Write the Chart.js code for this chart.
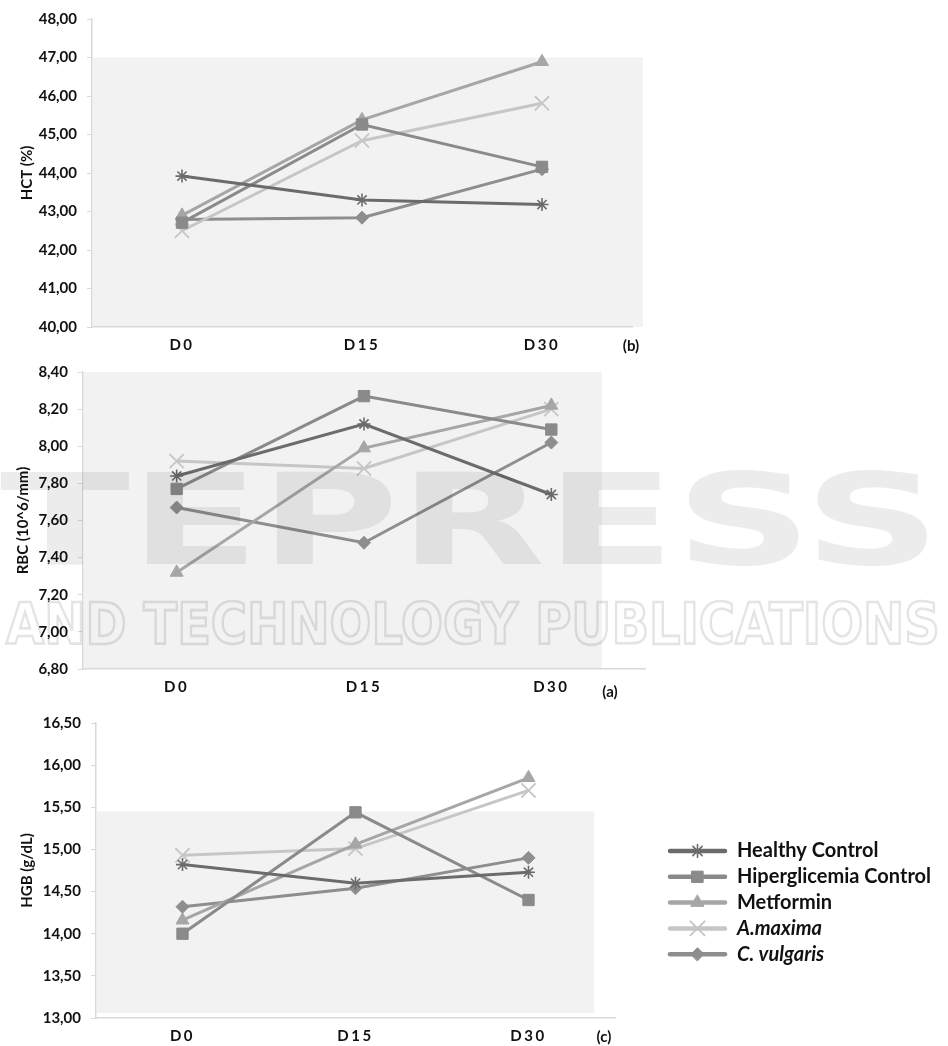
<!DOCTYPE html>
<html><head><meta charset="utf-8">
<script src="https://cdn.jsdelivr.net/npm/chart.js@4.4.1/dist/chart.umd.min.js"></script>
<style>
html,body{margin:0;padding:0;background:#fff;}
body{width:948px;height:1046px;position:relative;overflow:hidden;font-family:Lato,sans-serif;}
canvas{position:absolute;left:0;}
.tag{position:absolute;font:bold 15px Lato,sans-serif;color:#111;transform:translate(-50%,-50%);}
.wm{position:absolute;left:0;top:0;white-space:nowrap;font-family:"DejaVu Sans",sans-serif;font-weight:bold;line-height:1;transform-origin:0 0;mix-blend-mode:multiply;pointer-events:none;}
#wm1{color:#ececec;font-size:123px;}
#wm2{color:transparent;-webkit-text-stroke:2.5px #e4e4e4;font-size:55px;}
</style></head><body>
<canvas id="c1" style="top:0px" width="948" height="360"></canvas>
<canvas id="c2" style="top:350px" width="948" height="350"></canvas>
<canvas id="c3" style="top:700px" width="948" height="346"></canvas>
<div class="tag" style="left:631px;top:345px">(b)</div>
<div class="tag" style="left:610px;top:691px">(a)</div>
<div class="tag" style="left:604px;top:1036px">(c)</div>
<div class="wm" id="wm1">TEPRESS</div>
<div class="wm" id="wm2">AND TECHNOLOGY PUBLICATIONS</div>
<script>
// ---- data ----
const days = ['D0', 'D15', 'D30'];
const seriesNames = ['Healthy Control', 'Hiperglicemia Control', 'Metformin', 'A.maxima', 'C. vulgaris'];

const hctHealthy = [43.92, 43.30, 43.18];
const hctHiper   = [42.71, 45.26, 44.16];
const hctMetf    = [42.90, 45.38, 46.89];
const hctAmax    = [42.50, 44.84, 45.81];
const hctCvul    = [42.79, 42.84, 44.10];

const rbcHealthy = [7.84, 8.12, 7.74];
const rbcHiper   = [7.77, 8.27, 8.09];
const rbcMetf    = [7.32, 7.99, 8.22];
const rbcAmax    = [7.92, 7.88, 8.20];
const rbcCvul    = [7.67, 7.48, 8.02];

const hgbHealthy = [14.82, 14.60, 14.73];
const hgbHiper   = [14.00, 15.44, 14.40];
const hgbMetf    = [14.16, 15.06, 15.85];
const hgbAmax    = [14.93, 15.01, 15.70];
const hgbCvul    = [14.32, 14.54, 14.90];

const hctTicks = ['40,00','41,00','42,00','43,00','44,00','45,00','46,00','47,00','48,00'];
const rbcTicks = ['6,80','7,00','7,20','7,40','7,60','7,80','8,00','8,20','8,40'];
const hgbTicks = ['13,00','13,50','14,00','14,50','15,00','15,50','16,00','16,50'];

// ---- styles ----
const styles = [
  {color:'#6b6b6b', point:'star',    r:6.5, bw:1.6, italic:false},
  {color:'#8a8a8a', point:'rect',    r:8,   bw:1,   italic:false},
  {color:'#a6a6a6', point:'triangle',r:7.5, bw:1,   italic:false},
  {color:'#c6c6c6', point:'crossRot',r:10,  bw:1.8, italic:true},
  {color:'#8e8e8e', point:'rectRot', r:6.5, bw:1,   italic:true}
];

const FONT = 'Lato, "Open Sans", sans-serif';

const bgPlugin = {
  id: 'plotBg',
  beforeDraw(chart, args, opts) {
    const {ctx, scales:{x, y}, chartArea} = chart;
    const l = chartArea.left + 1;
    const r = x.getPixelForValue(opts.xMax);
    const t = y.getPixelForValue(opts.yMax);
    const b = y.getPixelForValue(opts.yMin);
    ctx.save();
    ctx.fillStyle = '#f2f2f2';
    ctx.fillRect(l, t, r - l, b - t);
    ctx.restore();
  }
};

const spacingPlugin = {
  id: 'xSpacing',
  afterLayout(chart) {
    const sc = chart.scales.x;
    if (sc._patched) return;
    const orig = sc.drawLabels.bind(sc);
    sc.drawLabels = function(area) {
      const ctx = this.ctx;
      ctx.save();
      try { ctx.letterSpacing = '2.5px'; } catch(e) {}
      orig(area);
      ctx.restore();
    };
    sc._patched = true;
  }
};

const legendPlugin = {
  id: 'sideLegend',
  afterDraw(chart, args, opts) {
    if (!opts.show) return;
    const ctx = chart.ctx;
    ctx.save();
    chart.data.datasets.forEach((ds, i) => {
      const st = styles[i];
      const y = opts.top + i * opts.gap;
      ctx.strokeStyle = st.color;
      ctx.lineWidth = 4.5;
      ctx.lineCap = 'round';
      ctx.beginPath();
      ctx.moveTo(opts.x0, y);
      ctx.lineTo(opts.x1, y);
      ctx.stroke();
      ctx.fillStyle = st.color;
      ctx.strokeStyle = st.color;
      ctx.lineWidth = st.bw;
      Chart.helpers.drawPoint(ctx, {pointStyle: st.point, radius: st.r, rotation: 0, borderWidth: st.bw}, (opts.x0 + opts.x1) / 2, y);
      ctx.fillStyle = '#111';
      ctx.textBaseline = 'middle';
      ctx.textAlign = 'left';
      ctx.font = (st.italic ? 'italic ' : '') + 'bold 20px ' + FONT;
      ctx.fillText(ds.label, opts.tx, y);
    });
    ctx.restore();
  }
};

function makeDatasets(arrs) {
  return arrs.map((vals, i) => ({
    label: seriesNames[i],
    data: vals,
    borderColor: styles[i].color,
    backgroundColor: styles[i].color,
    borderWidth: 3,
    pointStyle: styles[i].point,
    pointRadius: styles[i].r,
    pointBorderWidth: styles[i].bw,
    pointBorderColor: styles[i].color,
    pointBackgroundColor: styles[i].color,
    tension: 0
  }));
}

function makeChart(id, arrs, cfg) {
  return new Chart(document.getElementById(id), {
    type: 'line',
    data: { labels: days, datasets: makeDatasets(arrs) },
    plugins: [bgPlugin, spacingPlugin, legendPlugin],
    options: {
      responsive: false,
      animation: false,
      layout: { padding: { left: 0, top: cfg.padTop, right: cfg.padRight, bottom: 0 } },
      plugins: {
        legend: { display: false },
        tooltip: { enabled: false },
        plotBg: cfg.bg,
        sideLegend: cfg.legend || { show: false }
      },
      scales: {
        x: {
          offset: true,
          grid: { display: true, drawOnChartArea: false, drawTicks: false, color: '#d9d9d9' },
          border: { display: true, color: '#d9d9d9', width: 1.5 },
          ticks: { color: '#111', font: { family: FONT, size: 15, weight: 'bold' }, padding: 9 },
          afterFit(s) { s.height = cfg.xH; }
        },
        y: {
          min: cfg.min, max: cfg.max,
          grid: { display: true, drawOnChartArea: false, drawTicks: true, tickLength: 5, color: '#d9d9d9' },
          border: { display: true, color: '#d9d9d9', width: 1.5 },
          ticks: {
            stepSize: cfg.step,
            color: '#111',
            font: { family: FONT, size: 15, weight: 'bold' },
            padding: 10,
            callback: (v, idx) => cfg.tickLabels[idx]
          },
          title: {
            display: true, text: cfg.title, color: '#111',
            font: { family: FONT, size: 15, weight: 'bold' },
            padding: { top: cfg.titlePad, bottom: 0 }
          },
          afterFit(s) { s.width = cfg.yW; }
        }
      }
    }
  });
}

makeChart('c1', [hctHealthy, hctHiper, hctMetf, hctAmax, hctCvul], {
  min: 40, max: 48, step: 1, tickLabels: hctTicks, title: 'HCT (%)',
  padTop: 17, padRight: 316, xH: 33, yW: 92, titlePad: 18,
  bg: { xMax: 2.56, yMax: 47, yMin: 40 }
});
makeChart('c2', [rbcHealthy, rbcHiper, rbcMetf, rbcAmax, rbcCvul], {
  min: 6.8, max: 8.4, step: 0.2, tickLabels: rbcTicks, title: 'RBC (10^6/mm)',
  padTop: 22, padRight: 303, xH: 31, yW: 83, titlePad: 14,
  bg: { xMax: 2.27, yMax: 8.4, yMin: 6.8 }
});
makeChart('c3', [hgbHealthy, hgbHiper, hgbMetf, hgbAmax, hgbCvul], {
  min: 13, max: 16.5, step: 0.5, tickLabels: hgbTicks, title: 'HGB (g/dL)',
  padTop: 23, padRight: 333, xH: 28, yW: 96, titlePad: 18,
  bg: { xMax: 2.38, yMax: 15.45, yMin: 13.06 },
  legend: { show: true, top: 151, gap: 25.8, x0: 670, x1: 725, tx: 737 }
});

// faint publisher watermark, stretched to span the page as in the reference
function fitWm(id, x0, x1, capTop, capH) {
  const el = document.getElementById(id);
  const fs = parseFloat(getComputedStyle(el).fontSize);
  const sx = (x1 - x0) / el.offsetWidth;
  const sy = capH / (0.729 * fs);
  el.style.left = x0 + 'px';
  el.style.top = (capTop - 0.117 * fs * sy) + 'px';
  el.style.transform = 'scale(' + sx + ',' + sy + ')';
}
fitWm('wm1', 0, 940, 472, 92);
fitWm('wm2', 6, 940, 603, 42);
</script>
</body></html>
